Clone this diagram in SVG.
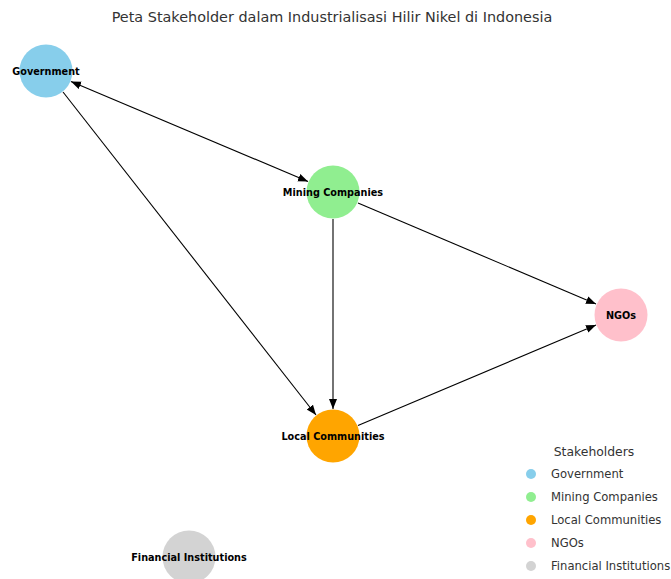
<svg xmlns="http://www.w3.org/2000/svg" width="671" height="579" viewBox="0 0 671 579">
<style>
.node-label{font-family:"DejaVu Sans",sans-serif;font-weight:bold;font-size:9.7px;fill:#000;text-anchor:middle;dominant-baseline:central}
.edge{stroke:#000;stroke-width:1.1;fill:none}
.leg{font-family:"DejaVu Sans",sans-serif;font-size:11.6px;fill:#333}
.title{font-family:"DejaVu Sans",sans-serif;font-size:14.4px;fill:#333;text-anchor:middle}
</style>
<defs>
<marker id="ah" viewBox="0 0 10 10" refX="10" refY="5" markerWidth="10" markerHeight="10" markerUnits="userSpaceOnUse" orient="auto-start-reverse">
<path d="M0,1 L10,5 L0,9 Z" fill="#000"/>
</marker>
</defs>
<rect width="671" height="579" fill="#fff"/>
<text class="title" x="332" y="22">Peta Stakeholder dalam Industrialisasi Hilir Nikel di Indonesia</text>
<g id="connectors">
<line class="edge" x1="71" y1="81.5" x2="308" y2="181.5" marker-start="url(#ah)" marker-end="url(#ah)"/>
<line class="edge" x1="63" y1="92" x2="316" y2="415" marker-end="url(#ah)"/>
<line class="edge" x1="333" y1="219" x2="333" y2="409" marker-end="url(#ah)"/>
<line class="edge" x1="358" y1="203" x2="596" y2="304" marker-end="url(#ah)"/>
<line class="edge" x1="358" y1="425.5" x2="596" y2="325" marker-end="url(#ah)"/>
</g>
<g id="government"><circle cx="46" cy="71" r="26.5" fill="#87CEEB"/><text class="node-label" x="46" y="71">Government</text></g>
<g id="mining"><circle cx="333" cy="192" r="26.5" fill="#90EE90"/><text class="node-label" x="333" y="192">Mining Companies</text></g>
<g id="ngos"><circle cx="621" cy="315" r="26.5" fill="#FFC0CB"/><text class="node-label" x="621" y="315">NGOs</text></g>
<g id="local"><circle cx="333" cy="436" r="26.5" fill="#FFA500"/><text class="node-label" x="333" y="436">Local Communities</text></g>
<g id="financial"><circle cx="189" cy="557" r="26.5" fill="#D3D3D3"/><text class="node-label" x="189" y="557">Financial Institutions</text></g>
<g id="legend">
<text class="leg" x="594" y="456" text-anchor="middle" style="font-size:12.4px">Stakeholders</text>
<circle cx="531" cy="474" r="5" fill="#87CEEB"/><text class="leg" x="551" y="478">Government</text>
<circle cx="531" cy="497" r="5" fill="#90EE90"/><text class="leg" x="551" y="501">Mining Companies</text>
<circle cx="531" cy="520" r="5" fill="#FFA500"/><text class="leg" x="551" y="524">Local Communities</text>
<circle cx="531" cy="543" r="5" fill="#FFC0CB"/><text class="leg" x="551" y="547">NGOs</text>
<circle cx="531" cy="566" r="5" fill="#D3D3D3"/><text class="leg" x="551" y="570">Financial Institutions</text>
</g>
</svg>
